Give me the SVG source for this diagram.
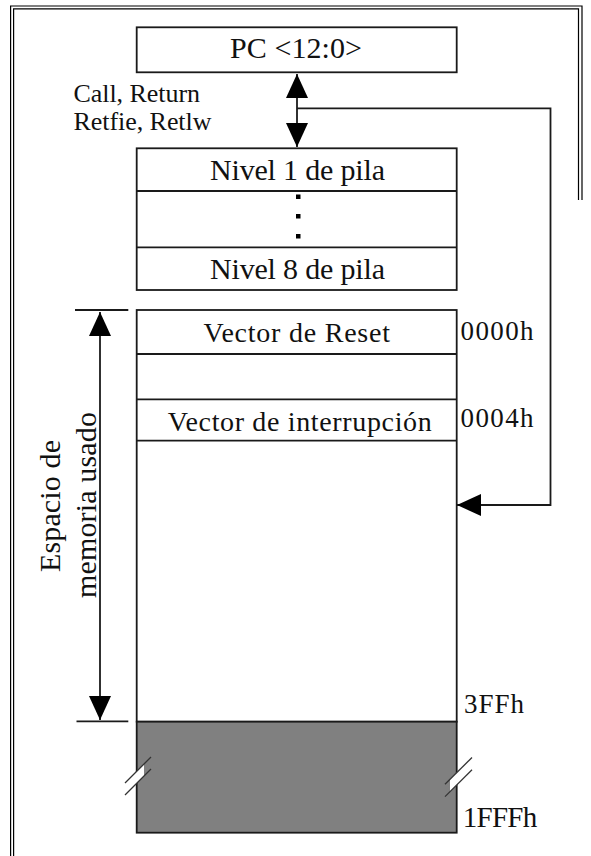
<svg xmlns="http://www.w3.org/2000/svg" width="591" height="856" viewBox="0 0 591 856">
<style>
.bx{fill:#fff;stroke:#1a1a1a;stroke-width:1.8}
.ln{fill:none;stroke:#1a1a1a;stroke-width:1.8}
.fr{fill:none;stroke:#000;stroke-width:1.2}
.t{font-family:"Liberation Serif","Times New Roman",serif;fill:#111}
.brk{fill:none;stroke:#333;stroke-width:1.3}
</style>
<defs>
<marker id="ah" viewBox="0 0 24 22" refX="24" refY="11" markerWidth="24" markerHeight="22" markerUnits="userSpaceOnUse" orient="auto-start-reverse">
<path d="M0,0 L24,11 L0,22 z" fill="#000"/>
</marker>
</defs>
<rect width="591" height="856" fill="#fff"/>
<g id="frame">
<path class="fr" d="M10.6,856 V6 H582 V200"/>
<path class="fr" d="M13.6,856 V8.8 H578.5 V200"/>
</g>
<g id="pc">
<rect class="bx" x="136.7" y="27.3" width="320" height="45"/>
<text class="t" x="230" y="57.5" font-size="30" textLength="132" lengthAdjust="spacing">PC &lt;12:0&gt;</text>
</g>
<g id="ops">
<text class="t" x="73.5" y="102" font-size="26" textLength="126.5" lengthAdjust="spacing">Call, Return</text>
<text class="t" x="73.5" y="130" font-size="26" textLength="138" lengthAdjust="spacing">Retfie, Retlw</text>
</g>
<g id="stack">
<rect class="bx" x="136.7" y="148.3" width="320" height="141.7"/>
<line class="ln" x1="136.7" y1="191" x2="456.7" y2="191"/>
<line class="ln" x1="136.7" y1="247.3" x2="456.7" y2="247.3"/>
<text class="t" x="210" y="180" font-size="30" textLength="175" lengthAdjust="spacing">Nivel 1 de pila</text>
<rect x="296" y="194.5" width="4.5" height="4.5" fill="#000"/>
<rect x="296" y="214" width="4.5" height="4.5" fill="#000"/>
<rect x="296" y="234" width="4.5" height="4.5" fill="#000"/>
<text class="t" x="210" y="279" font-size="30" textLength="175" lengthAdjust="spacing">Nivel 8 de pila</text>
</g>
<g id="memory">
<rect class="bx" x="136.7" y="310" width="320" height="411.7"/>
<line class="ln" x1="136.7" y1="354" x2="456.7" y2="354"/>
<line class="ln" x1="136.7" y1="399.3" x2="456.7" y2="399.3"/>
<line class="ln" x1="136.7" y1="440.7" x2="456.7" y2="440.7"/>
<text class="t" x="203.5" y="342" font-size="28" textLength="186.5" lengthAdjust="spacing">Vector de Reset</text>
<text class="t" x="167.7" y="430.5" font-size="28" textLength="264" lengthAdjust="spacing">Vector de interrupción</text>
<text class="t" x="460.6" y="340" font-size="27" textLength="73" lengthAdjust="spacing">0000h</text>
<text class="t" x="460.6" y="426.7" font-size="27" textLength="73" lengthAdjust="spacing">0004h</text>
<text class="t" x="464" y="712.7" font-size="27" textLength="60" lengthAdjust="spacing">3FFh</text>
</g>
<g id="reserved">
<rect x="136.7" y="721.7" width="320" height="111" fill="#808080" stroke="#1a1a1a" stroke-width="1.8"/>
<polygon points="144,764 144,776 130,790 130,778" fill="#fff"/>
<line class="brk" x1="151" y1="757" x2="125" y2="783"/>
<line class="brk" x1="151" y1="769" x2="125" y2="795"/>
<polygon points="463,766.5 463,778.8 450,791.3 450,779" fill="#fff"/>
<line class="brk" x1="472" y1="757.5" x2="445" y2="784.3"/>
<line class="brk" x1="472" y1="769.8" x2="445" y2="796.6"/>
<text class="t" x="462.7" y="826.7" font-size="29" textLength="74.6" lengthAdjust="spacing">1FFFh</text>
</g>
<g id="dimension">
<line class="ln" x1="75" y1="310" x2="128.3" y2="310"/>
<line class="ln" x1="76.5" y1="721.3" x2="128.3" y2="721.3"/>
<text class="t" transform="translate(60,572) rotate(-90)" font-size="30" textLength="132" lengthAdjust="spacing">Espacio de</text>
<text class="t" transform="translate(96,598) rotate(-90)" font-size="30" textLength="186" lengthAdjust="spacing">memoria usado</text>
</g>
<g id="connectors">
<path class="ln" d="M297,74 V147" marker-start="url(#ah)" marker-end="url(#ah)"/>
<path class="ln" d="M297,108.3 H550.5 V505 H457" marker-end="url(#ah)"/>
<path class="ln" d="M100,312 V720" marker-start="url(#ah)" marker-end="url(#ah)"/>
</g>
</svg>
